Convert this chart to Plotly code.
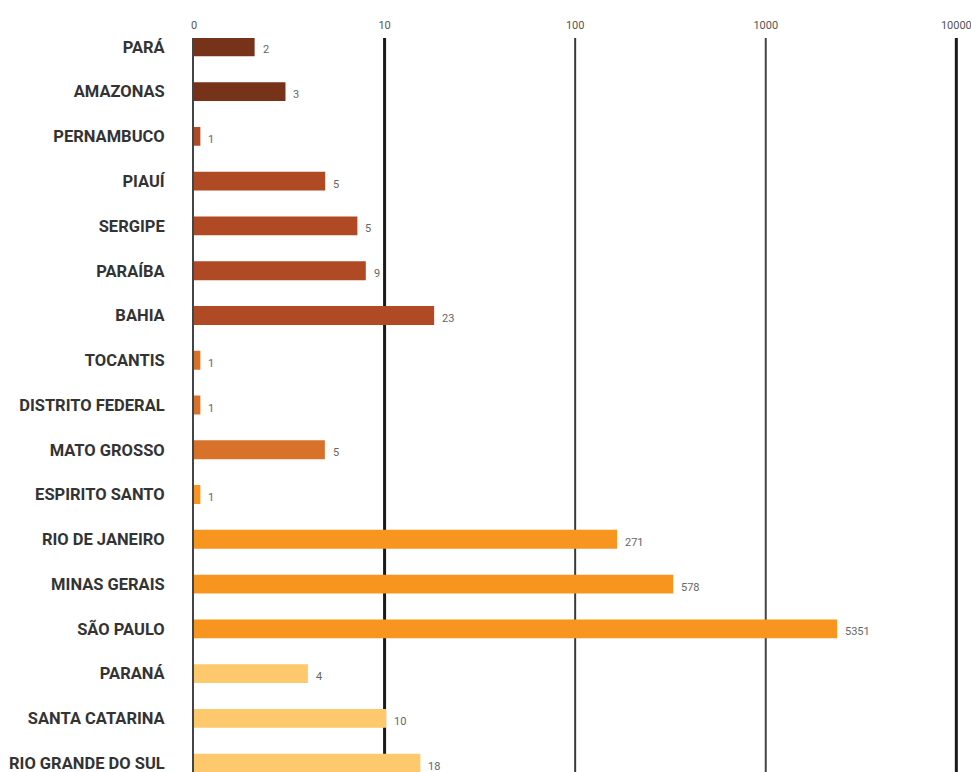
import math
import plotly.graph_objects as go

states = ["PARÁ", "AMAZONAS", "PERNAMBUCO", "PIAUÍ", "SERGIPE", "PARAÍBA", "BAHIA",
          "TOCANTIS", "DISTRITO FEDERAL", "MATO GROSSO", "ESPIRITO SANTO",
          "RIO DE JANEIRO", "MINAS GERAIS", "SÃO PAULO", "PARANÁ", "SANTA CATARINA",
          "RIO GRANDE DO SUL"]
# bar lengths as drawn in the reference (log scale)
bar_values = [2.08, 3.02, 1.08, 4.88, 7.2, 7.97, 18.2, 1.08, 1.08, 4.86, 1.08,
              166, 327, 2370, 3.96, 10.2, 15.4]
# printed labels
label_values = ["2", "3", "1", "5", "5", "9", "23", "1", "1", "5", "1",
                "271", "578", "5351", "4", "10", "18"]
colors = ["#77321a", "#77321a", "#b04a24", "#b04a24", "#b04a24", "#b04a24", "#b04a24",
          "#d8722b", "#d8722b", "#d8722b", "#f7951f",
          "#f7951f", "#f7951f", "#f7951f", "#fec96d", "#fec96d", "#fec96d"]

tick_vals = [1, 10, 100, 1000, 10000]
tick_text = ["0", "10", "100", "1000", "10000"]
grid_widths = [0, 3, 2, 2, 3]
grid_colors = ["#444", "#1a1a1a", "#3a3a3a", "#444", "#1a1a1a"]

fig = go.Figure()
fig.add_trace(go.Bar(
    y=states, x=bar_values, orientation="h",
    marker=dict(color=colors, line=dict(width=0)),
    width=0.42,
))

# annotations on a log axis take log10 positions
for s, v, t in zip(states, bar_values, label_values):
    fig.add_annotation(x=math.log10(v), y=s, xref="x", yref="y", text=t, showarrow=False,
                       xanchor="left", yanchor="middle", xshift=6, yshift=-3,
                       font=dict(family="Roboto", size=11, color="#666"))

shapes = []
for v, w, c in zip(tick_vals, grid_widths, grid_colors):
    if w > 0:
        shapes.append(dict(type="line", xref="x", yref="paper", x0=v, x1=v, y0=0, y1=1,
                           line=dict(color=c, width=w), layer="below"))

fig.update_layout(
    width=971, height=772,
    margin=dict(l=194, r=8, t=38, b=0),
    paper_bgcolor="white", plot_bgcolor="white",
    showlegend=False,
    shapes=shapes,
    font=dict(family="Roboto"),
    xaxis=dict(type="log", range=[0, 4.035], side="top",
               tickvals=tick_vals, ticktext=tick_text,
               showgrid=False, zeroline=False, showline=False, ticks="",
               ticklabelstandoff=6, ticklabeloverflow="allow",
               tickfont=dict(family="Roboto", size=11, color="#555")),
    yaxis=dict(categoryorder="array", categoryarray=states,
               range=[16.2, -0.2], showgrid=False, zeroline=False,
               showline=True, linecolor="#444", linewidth=2, ticks="",
               ticklabelstandoff=24,
               tickfont=dict(family="Roboto", size=16.5, color="#333", weight="bold")),
)

fig.write_html("out.html")
